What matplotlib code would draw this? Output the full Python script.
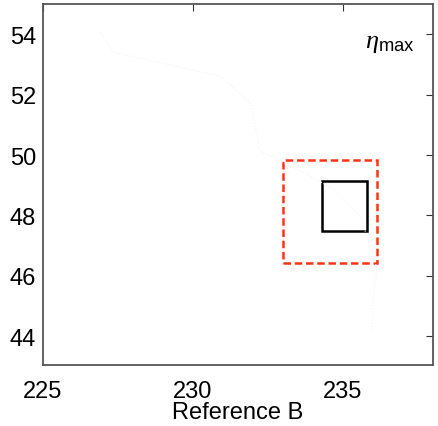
import matplotlib
matplotlib.use("Agg")
import matplotlib.pyplot as plt
from matplotlib.patches import Rectangle

plt.rcParams['font.family'] = ['Liberation Sans', 'DejaVu Sans']
plt.rcParams['mathtext.fontset'] = 'custom'
plt.rcParams['mathtext.rm'] = 'Liberation Sans'
plt.rcParams['mathtext.it'] = 'Liberation Serif:italic'

# faint track
track_x = [226.9, 227.33, 230.9, 231.9, 232.23, 233.47, 234.67, 235.57, 235.9, 236.13, 236.0, 235.97]
track_y = [54.07, 53.41, 52.61, 51.76, 50.14, 49.54, 48.88, 47.99, 47.0, 46.24, 45.25, 44.2]

# rectangles: (x0, y0, x1, y1)
outer_box = [233.01, 46.41, 236.12, 49.82]
inner_box = [234.31, 47.49, 235.81, 49.15]

xticks = [225, 230, 235]
yticks = [44, 46, 48, 50, 52, 54]

fig = plt.figure(figsize=(4.38, 4.27), dpi=100)
ax = fig.add_axes([43/438, 1-366/427, 390/438, 361/427])

ax.plot(track_x, track_y, color='#f3f3fb', lw=0.8, ls=':')

ax.add_patch(Rectangle((outer_box[0], outer_box[1]), outer_box[2]-outer_box[0],
                       outer_box[3]-outer_box[1], fill=False, ec='#ff3311',
                       lw=1.8, ls=(0, (3, 1.5))))
ax.add_patch(Rectangle((inner_box[0], inner_box[1]), inner_box[2]-inner_box[0],
                       inner_box[3]-inner_box[1], fill=False, ec='black', lw=1.8))

ax.set_xlim(225, 238)
ax.set_ylim(43.05, 55)
ax.set_xticks(xticks)
ax.set_yticks(yticks)
ax.tick_params(direction='in', length=5, labelsize=17, top=True, right=True,
               bottom=False, left=False, color='#333333')
ax.tick_params(axis='x', pad=11)
ax.tick_params(axis='y', pad=5)
for s in ax.spines.values():
    s.set_color('#555555')
    s.set_linewidth(1.3)

ax.set_xlabel('Reference B', fontsize=17, labelpad=-1)
ax.text(0.89, 0.895, r'$\eta_{\rm max}$', transform=ax.transAxes, fontsize=19,
        ha='center', va='center')

fig.savefig('out.png', dpi=100)
